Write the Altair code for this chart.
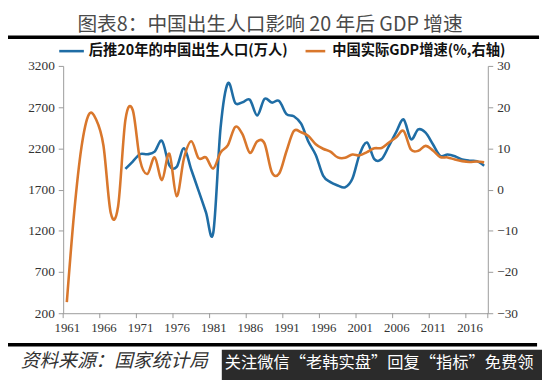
import altair as alt
import pandas as pd

# ---- data ----
title_text = "图表8：中国出生人口影响 20 年后 GDP 增速"
source_text = "资料来源：国家统计局"
banner_text = "关注微信“老韩实盘”回复“指标”免费领"
blue_name = "后推20年的中国出生人口(万人)"
orange_name = "中国实际GDP增速(%,右轴)"

years_gdp = list(range(1961, 2019))
gdp_growth = [-27.3, -5.6, 10.3, 18.2, 17.0, 10.7, -5.7, -4.1, 16.9, 19.3,
              7.1, 3.8, 7.8, 2.3, 8.7, -1.6, 7.6, 11.7, 7.6, 7.8,
              5.1, 9.0, 10.8, 15.2, 13.4, 8.9, 11.7, 11.2, 4.2, 3.9,
              9.3, 14.2, 13.9, 13.0, 11.0, 9.9, 9.2, 7.8, 7.7, 8.5,
              8.3, 9.1, 10.0, 10.1, 11.4, 12.7, 14.2, 9.7, 9.4, 10.6,
              9.5, 7.9, 7.8, 7.3, 6.9, 6.7, 6.8, 6.6]

years_birth = list(range(1969, 2019))
births = [1950, 2040, 2130, 2128, 2160, 2290, 1995, 1975, 2200, 1940,
          1685, 1425, 1176, 2450, 2990, 2750, 2760, 2790, 2600, 2800,
          2755, 2775, 2615, 2590, 2500, 2280, 2120, 1870, 1790, 1750,
          1727, 1830, 2130, 2270, 2070, 2070, 2230, 2400, 2550, 2310,
          2430, 2390, 2250, 2110, 2125, 2105, 2065, 2050, 2045, 1990]

x_label_years = [1961, 1966, 1971, 1976, 1981, 1986, 1991, 1996, 2001, 2006, 2011, 2016]
x_tick_bounds = [1960.5, 1965.5, 1970.5, 1975.5, 1980.5, 1985.5, 1990.5, 1995.5,
                 2000.5, 2005.5, 2010.5, 2015.5, 2018.5]
left_ticks = [200, 700, 1200, 1700, 2200, 2700, 3200]
right_ticks = [-30, -20, -10, 0, 10, 20, 30]

BLUE = "#1f6da5"
ORANGE = "#d9772c"
W, H = 431, 251

df_b = pd.DataFrame({"year": years_birth, "value": births})
df_g = pd.DataFrame({"year": years_gdp, "value": gdp_growth})
df_t = pd.DataFrame({"year": x_tick_bounds})
one = pd.DataFrame({"a": [0]})

lab_font = "Liberation Serif, Times New Roman, serif"
xscale = alt.Scale(domain=[1960.5, 2018.5], nice=False, zero=False)
xaxis = alt.Axis(values=x_label_years, format="d", ticks=False, grid=False, title=None,
                 domainColor="#9a9a9a", labelFont=lab_font, labelFontSize=13,
                 labelColor="#333", labelPadding=9, labelFlush=False)
X = alt.X("year:Q", scale=xscale, axis=xaxis)

blue = alt.Chart(df_b).mark_line(color=BLUE, strokeWidth=2.6, interpolate="cardinal").encode(
    x=X,
    y=alt.Y("value:Q", scale=alt.Scale(domain=[200, 3200], nice=False, zero=False),
            axis=alt.Axis(values=left_ticks, format="d", orient="left", grid=False, title=None,
                          domainColor="#9a9a9a", tickColor="#9a9a9a", tickSize=5,
                          labelFont=lab_font, labelFontSize=13.5, labelColor="#333",
                          labelPadding=4)),
)

orange = alt.Chart(df_g).mark_line(color=ORANGE, strokeWidth=2.6, interpolate="cardinal").encode(
    x=X,
    y=alt.Y("value:Q", scale=alt.Scale(domain=[-30, 30], nice=False, zero=False),
            axis=alt.Axis(values=right_ticks, format="d", orient="right", grid=False, title=None,
                          domainColor="#9a9a9a", tickColor="#9a9a9a", tickSize=5,
                          labelFont=lab_font, labelFontSize=13.5, labelColor="#333",
                          labelPadding=4)),
)

xticks = alt.Chart(df_t).mark_rule(color="#9a9a9a", strokeWidth=1).encode(
    x=X, y=alt.value(H), y2=alt.value(H + 5),
)

def txt(s, x, y, **kw):
    return alt.Chart(pd.DataFrame({"t": [s]})).mark_text(**kw).encode(
        text="t:N", x=alt.value(x), y=alt.value(y))

def hline(x1, x2, y, color, w):
    return alt.Chart(one).mark_rule(color=color, strokeWidth=w).encode(
        x=alt.value(x1), x2=alt.value(x2), y=alt.value(y))

title = txt(title_text, 210, -41, font="Noto Sans CJK SC", fontSize=20, color="#4a4a4a",
            align="center", baseline="middle")
top_line = hline(-61, 483, -29, "black", 3.5)
bottom_line = hline(-60, 481, 283, "black", 3.5)

leg_b_line = hline(-4, 21, -15, BLUE, 2.6)
leg_b_txt = txt(blue_name, 26, -15, font="Noto Sans CJK SC", fontSize=14.5, fontWeight="bold",
                color="#111", align="left", baseline="middle")
leg_o_line = hline(246, 266, -15, ORANGE, 2.6)
leg_o_txt = txt(orange_name, 273, -15, font="Noto Sans CJK SC", fontSize=14.5, fontWeight="bold",
                color="#111", align="left", baseline="middle")

source = txt(source_text, -43, 300, font="Noto Sans CJK SC", fontSize=19, fontStyle="italic",
             color="#333", align="left", baseline="middle")
banner = alt.Chart(one).mark_rect(color="#2b2b2b").encode(
    x=alt.value(161), x2=alt.value(490), y=alt.value(288), y2=alt.value(330))
banner_t = txt(banner_text, 164, 302, font="Noto Sans CJK SC", fontSize=16.5, color="white",
               align="left", baseline="middle")

chart = alt.layer(
    blue, orange, xticks, title, top_line, bottom_line,
    leg_b_line, leg_b_txt, leg_o_line, leg_o_txt, source, banner, banner_t
).resolve_scale(y="independent").properties(
    width=W, height=H,
    autosize=alt.AutoSizeParams(type="none"),
    padding={"left": 56, "top": 56, "right": 55, "bottom": 65},
    background="white",
).configure_view(stroke=None)

chart.save("out.html", embed_options={"renderer": "svg", "actions": False})
